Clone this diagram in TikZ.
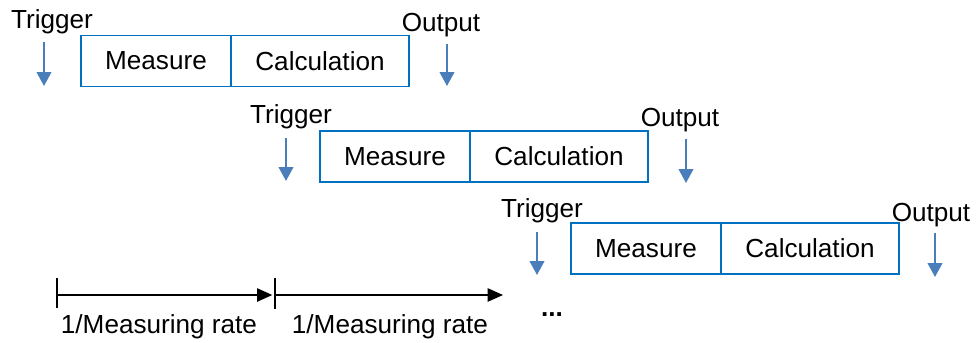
\documentclass[tikz,border=0pt]{standalone}
\usepackage{fontspec}
\setmainfont{Liberation Sans}
\usetikzlibrary{arrows.meta}
\definecolor{boxblue}{RGB}{0,112,192}
\definecolor{arrowblue}{RGB}{74,126,187}
\tikzstyle{measure} = [rectangle, draw=boxblue, line width=1.1pt, minimum width=112.5pt, minimum height=38pt, inner sep=0pt]
\tikzstyle{calc} = [rectangle, draw=boxblue, line width=1.1pt, minimum width=133.5pt, minimum height=38pt, inner sep=0pt]
\tikzstyle{txt} = [inner sep=0pt, anchor=base]
\tikzset{signal/.style = {
    arrowblue, line width=1.5pt,
    -{Triangle[width=11pt,length=10.5pt]},
  },
  period/.style = {
    black, line width=1.1pt,
    -{Triangle[width=10pt,length=11.5pt]},
  }
}

\begin{document}
\begin{tikzpicture}[x=0.75pt, y=-0.75pt, font=\fontsize{19.6}{23}\selectfont]
            \useasboundingbox (0,0) rectangle (976,343);
            % boxes
            \node[measure] (m1) at (156 , 61) {Measure};
            \node[calc] (c1) at (320 , 61) {Calculation};
            \node[measure] (m2) at (395 , 156.5) {Measure};
            \node[calc] (c2) at (559 , 156.5) {Calculation};
            \node[measure] (m3) at (646 , 248.5) {Measure};
            \node[calc] (c3) at (810 , 248.5) {Calculation};

            % trigger and output texts
            \node[txt] (t1) at (52 , 28) {Trigger};
            \node[txt] (o1) at (441 , 31) {Output};
            \node[txt] (t2) at (291 , 123) {Trigger};
            \node[txt] (o2) at (680 , 126) {Output};
            \node[txt] (t3) at (542 , 217) {Trigger};
            \node[txt] (o3) at (931 , 221) {Output};

            % arrow ends
            \coordinate (ta1) at (44 , 42);   \coordinate (tb1) at (44 , 86);
            \coordinate (oa1) at (447 , 44);  \coordinate (ob1) at (447 , 86);
            \coordinate (ta2) at (286 , 138); \coordinate (tb2) at (286 , 181);
            \coordinate (oa2) at (686 , 139); \coordinate (ob2) at (686 , 183);
            \coordinate (ta3) at (537 , 232); \coordinate (tb3) at (537 , 275);
            \coordinate (oa3) at (935 , 233); \coordinate (ob3) at (935 , 277);

            %signals
            \draw[signal] (ta1) -- (tb1);
            \draw[signal] (oa1) -- (ob1);
            \draw[signal] (ta2) -- (tb2);
            \draw[signal] (oa2) -- (ob2);
            \draw[signal] (ta3) -- (tb3);
            \draw[signal] (oa3) -- (ob3);

            % time line
            \coordinate (p0) at (57 , 295);
            \coordinate (p1) at (275 , 295);
            \coordinate (p2) at (503 , 295);
            \draw[line width=1.1pt] ([yshift=-13*0.75pt]p0) -- ([yshift=17*0.75pt]p0);
            \draw[line width=1.1pt] ([yshift=-14*0.75pt]p1) -- ([yshift=17*0.75pt]p1);
            \draw[period, shorten >=2pt] (p0) -- (p1);
            \draw[period] (p1) -- (p2);
            \node[txt] (l1) at (159 , 333) {1/Measuring rate};
            \node[txt] (l2) at (390 , 333) {1/Measuring rate};
            \node[txt] (dots) at (552 , 316) {\textbf{...}};
          \end{tikzpicture}
\end{document}
